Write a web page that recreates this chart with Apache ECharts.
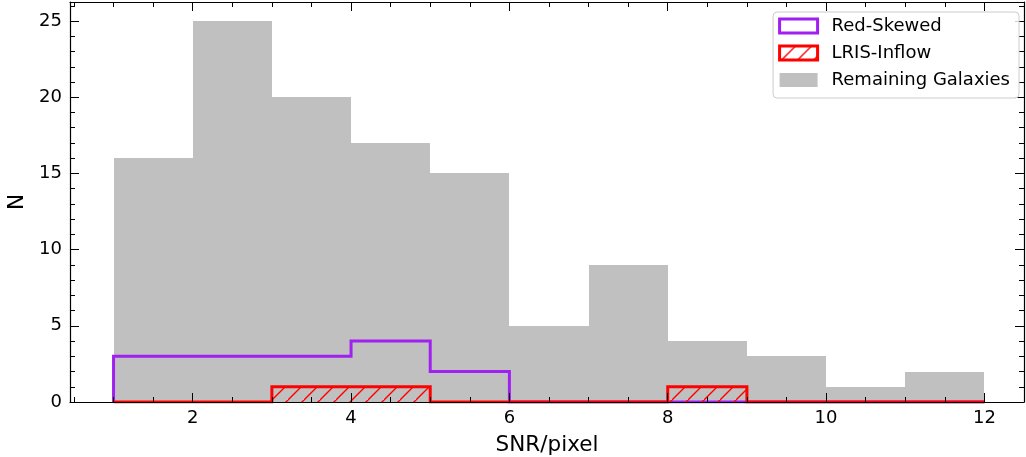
<!DOCTYPE html>
<html>
<head>
<meta charset="utf-8">
<script src="https://cdn.jsdelivr.net/npm/echarts@6/dist/echarts.min.js"></script>
<style>
  html, body { margin: 0; padding: 0; background: #fff; }
  #chart { width: 1026px; height: 457px; }
</style>
</head>
<body>
<div id="chart"></div>
<script>
// Histogram bin edges (SNR/pixel) and counts per bin
const binEdges = [1, 2, 3, 4, 5, 6, 7, 8, 9, 10, 11, 12];
const remainingGalaxies = [16, 25, 20, 17, 15, 5, 9, 4, 3, 1, 2];
const redSkewed = [3, 3, 3, 4, 2, 0, 0, 0, 0, 0, 0];
const lrisInflow = [0, 0, 1, 1, 0, 0, 0, 1, 0, 0, 0];

// Tick positions
const xTickLabels = [2, 4, 6, 8, 10, 12];
const yTickLabels = [0, 5, 10, 15, 20, 25];
const xMinorTicks = [0.5, 1, 1.5, 2.5, 3, 3.5, 4.5, 5, 5.5, 6.5, 7, 7.5, 8.5, 9, 9.5, 10.5, 11, 11.5, 12.5];
const yMinorTicks = [1, 2, 3, 4, 6, 7, 8, 9, 11, 12, 13, 14, 16, 17, 18, 19, 21, 22, 23, 24, 26];

const X_MIN = 0.45, X_MAX = 12.5;
const Y_MIN = 0, Y_MAX = 26.25;

const FONT = 'DejaVu Sans';
const PURPLE = '#a020f0';
const RED = '#ff0000';
const GREY = '#c0c0c0';

// Diagonal hatch tile used for the LRIS-Inflow fill
function makeHatch() {
  const s = 16;
  const c = document.createElement('canvas');
  c.width = s; c.height = s;
  const ctx = c.getContext('2d');
  ctx.strokeStyle = RED;
  ctx.lineWidth = 1.4;
  ctx.beginPath();
  ctx.moveTo(-4, s + 4); ctx.lineTo(s + 4, -4);
  ctx.moveTo(-4 - s, 4 + s); ctx.lineTo(4, -4);
  ctx.moveTo(s - 4, 2 * s + 4); ctx.lineTo(2 * s + 4, s - 4);
  ctx.stroke();
  return { image: c, repeat: 'repeat' };
}
const hatch = makeHatch();

// [left edge, right edge, count] per bin
function toBins(counts) {
  return counts.map((v, i) => [binEdges[i], binEdges[i + 1], v]);
}
// Outline of a step histogram: rise at the first edge, fall at the last
function toSteps(counts) {
  const pts = [[binEdges[0], 0]];
  counts.forEach((v, i) => pts.push([binEdges[i], v]));
  pts.push([binEdges[binEdges.length - 1], 0]);
  return pts;
}

// Bin rectangle, snapped to whole pixels so neighbouring bars join without seams
function rectItem(fill) {
  return function (params, api) {
    const top = api.value(2);
    if (!top) return null;
    const p0 = api.coord([api.value(0), top]);
    const p1 = api.coord([api.value(1), 0]);
    const x0 = Math.round(p0[0]), x1 = Math.round(p1[0]);
    const y0 = Math.round(p0[1]), y1 = Math.round(p1[1]);
    return {
      type: 'rect',
      shape: { x: x0, y: y0, width: x1 - x0, height: y1 - y0 },
      style: { fill: fill, stroke: null }
    };
  };
}

const labelStyle = { color: '#000', fontSize: 18, fontFamily: FONT };
const titleStyle = { color: '#000', fontSize: 21.5, fontFamily: FONT };
const lineStyleAxis = { color: '#000', width: 1.2 };

function xAxisDef(position, ticks, len, withLabels, withLine) {
  return {
    type: 'value', position: position, min: X_MIN, max: X_MAX, z: 5,
    axisLine: { show: withLine, onZero: false, lineStyle: lineStyleAxis },
    axisTick: { show: true, inside: true, length: len, customValues: ticks, lineStyle: { color: '#000', width: 1 } },
    axisLabel: withLabels ? Object.assign({ show: true, margin: 7, customValues: ticks }, labelStyle) : { show: false },
    splitLine: { show: false }
  };
}
function yAxisDef(position, ticks, len, withLabels, withLine) {
  return {
    type: 'value', position: position, min: Y_MIN, max: Y_MAX, z: 5,
    axisLine: { show: withLine, onZero: false, lineStyle: lineStyleAxis },
    axisTick: { show: true, inside: true, length: len, customValues: ticks, lineStyle: { color: '#000', width: 1 } },
    axisLabel: withLabels ? Object.assign({ show: true, margin: 8, customValues: ticks }, labelStyle) : { show: false },
    splitLine: { show: false }
  };
}

const xMain = xAxisDef('bottom', xTickLabels, 9, true, true);
xMain.name = 'SNR/pixel';
xMain.nameLocation = 'middle';
xMain.nameGap = 32;
xMain.nameTextStyle = titleStyle;

const yMain = yAxisDef('left', yTickLabels, 9, true, true);
yMain.name = 'N';
yMain.nameLocation = 'middle';
yMain.nameGap = 41;
yMain.nameTextStyle = titleStyle;

const option = {
  animation: false,
  backgroundColor: '#fff',
  grid: { left: 70, right: 2, top: 2, bottom: 55, containLabel: false, outerBoundsMode: 'none' },
  xAxis: [
    xMain,
    xAxisDef('bottom', xMinorTicks, 5, false, false),
    xAxisDef('top', xTickLabels, 9, false, true),
    xAxisDef('top', xMinorTicks, 5, false, false)
  ],
  yAxis: [
    yMain,
    yAxisDef('left', yMinorTicks, 5, false, false),
    yAxisDef('right', yTickLabels, 9, false, true),
    yAxisDef('right', yMinorTicks, 5, false, false)
  ],
  legend: {
    orient: 'vertical',
    right: 7,
    top: 12,
    padding: [5, 9, 9, 5],
    itemWidth: 38,
    itemHeight: 14,
    itemGap: 9,
    backgroundColor: 'rgba(255,255,255,0.8)',
    borderColor: '#cccccc',
    borderWidth: 1,
    borderRadius: 4,
    z: 10,
    textStyle: { color: '#000', fontSize: 18, fontFamily: FONT, lineHeight: 18, padding: [0, 0, 0, 9] },
    data: [
      { name: 'Red-Skewed', icon: 'rect', itemStyle: { color: '#fff', borderColor: PURPLE, borderWidth: 3 } },
      { name: 'LRIS-Inflow', icon: 'rect', itemStyle: { color: hatch, borderColor: RED, borderWidth: 3 } },
      { name: 'Remaining Galaxies', icon: 'rect', itemStyle: { color: GREY, borderWidth: 0 } }
    ]
  },
  series: [
    {
      name: 'Remaining Galaxies',
      type: 'custom',
      xAxisIndex: 0, yAxisIndex: 0,
      itemStyle: { color: GREY },
      encode: { x: [0, 1], y: 2 },
      renderItem: rectItem(GREY),
      data: toBins(remainingGalaxies),
      z: 1
    },
    {
      name: 'Red-Skewed',
      type: 'line',
      step: 'end',
      xAxisIndex: 0, yAxisIndex: 0,
      showSymbol: false,
      symbol: 'none',
      lineStyle: { color: PURPLE, width: 3, join: 'miter' },
      itemStyle: { color: PURPLE },
      data: toSteps(redSkewed),
      z: 2
    },
    {
      name: 'LRIS-Inflow',
      type: 'custom',
      xAxisIndex: 0, yAxisIndex: 0,
      itemStyle: { color: RED },
      encode: { x: [0, 1], y: 2 },
      renderItem: rectItem(hatch),
      data: toBins(lrisInflow),
      z: 3
    },
    {
      name: 'LRIS-Inflow',
      type: 'line',
      step: 'end',
      xAxisIndex: 0, yAxisIndex: 0,
      showSymbol: false,
      symbol: 'none',
      lineStyle: { color: RED, width: 3, join: 'miter' },
      itemStyle: { color: RED },
      data: toSteps(lrisInflow),
      z: 4
    }
  ]
};

const chart = echarts.init(document.getElementById('chart'), null, { renderer: 'canvas' });
chart.setOption(option);
</script>
</body>
</html>
